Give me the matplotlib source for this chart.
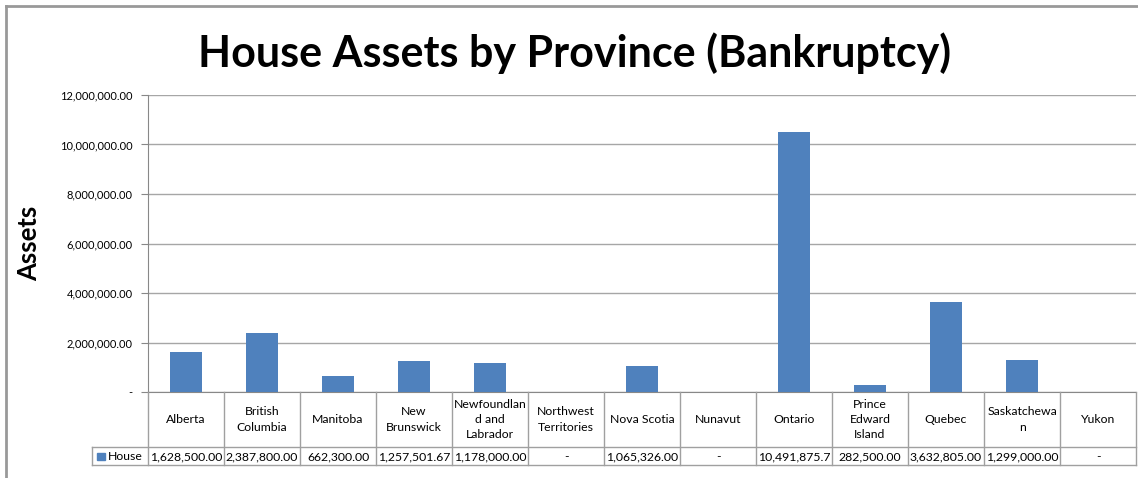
import matplotlib
matplotlib.use("Agg")
import matplotlib.pyplot as plt
from matplotlib.lines import Line2D
from matplotlib.patches import Rectangle

# data
provinces = ["Alberta", "British\nColumbia", "Manitoba", "New\nBrunswick",
             "Newfoundlan\nd and\nLabrador", "Northwest\nTerritories", "Nova Scotia",
             "Nunavut", "Ontario", "Prince\nEdward\nIsland", "Quebec",
             "Saskatchewa\nn", "Yukon"]
house = [1628500.00, 2387800.00, 662300.00, 1257501.67, 1178000.00, 0,
         1065326.00, 0, 10491875.70, 282500.00, 3632805.00, 1299000.00, 0]
yticks = [0, 2e6, 4e6, 6e6, 8e6, 10e6, 12e6]

W, H = 1138, 478
blue = "#4F81BD"
grid = "#A6A6A6"
font = "Lato"
plt.rcParams["font.family"] = [font, "DejaVu Sans"]

fig = plt.figure(figsize=(W / 100, H / 100), dpi=100)

def box(x0, y0, x1, y1):
    # pixel box (top-left origin) -> figure rect
    return [x0 / W, 1 - y1 / H, (x1 - x0) / W, (y1 - y0) / H]

# main plot
L, R, T, B = 148, 1136, 95, 392
ax = fig.add_axes(box(L, T, R, B))
n = len(provinces)
ax.bar(range(n), house, width=0.42, color=blue, zorder=3)
ax.set_xlim(-0.5, n - 0.5)
ax.set_ylim(0, 12e6)
ax.set_yticks(yticks)
ax.set_yticklabels(["-" if v == 0 else f"{v:,.2f}" for v in yticks], fontsize=8)
ax.set_xticks([])
ax.yaxis.grid(True, color=grid, lw=1)
ax.set_axisbelow(True)
for s in ["top", "right"]:
    ax.spines[s].set_visible(False)
ax.spines["left"].set_color("#888888")
ax.spines["bottom"].set_color("#888888")
ax.tick_params(axis="y", length=5, color="#888888", pad=6)
ax.set_ylabel("Assets", fontsize=18.5, fontweight="bold", labelpad=14)

# data table under the plot
legw = (L - 92) / 76
tab = fig.add_axes(box(92, B, R, 465))
tab.set_xlim(-0.5 - legw, n - 0.5)
tab.set_ylim(465 - B, 0)
tab.axis("off")
lc = "#A0A0A0"
row2 = 447 - B
bot = 465 - B
fs = 8.8
for i in range(n + 1):
    tab.plot([i - 0.5, i - 0.5], [0, bot], color=lc, lw=1, clip_on=False)
tab.plot([-0.5 - legw, n - 0.5], [row2, row2], color=lc, lw=1, clip_on=False)
tab.plot([-0.5 - legw, n - 0.5], [bot, bot], color=lc, lw=1, clip_on=False)
tab.plot([-0.5 - legw, -0.5 - legw], [row2, bot], color=lc, lw=1, clip_on=False)
for i, (p, v) in enumerate(zip(provinces, house)):
    tab.text(i, row2 / 2, p, ha="center", va="center", fontsize=fs,
             linespacing=1.5)
    lab = "-" if v == 0 else f"{v:,.2f}"[:12]
    tab.text(i, (row2 + bot) / 2 + 0.5, lab, ha="center", va="center", fontsize=fs)
tab.add_patch(Rectangle((-0.5 - legw + 0.07, row2 + 5.5), 0.1, 7.5, color=blue,
                        clip_on=False))
tab.text(-0.5 - legw + 0.21, (row2 + bot) / 2 + 0.5, "House", ha="left",
         va="center", fontsize=fs)

fig.text(575 / W, 1 - 53 / H, "House Assets by Province (Bankruptcy)",
         ha="center", va="center", fontsize=31, fontweight="bold")

# outer chart border
fig.add_artist(Line2D([6 / W, 1], [1 - 6 / H, 1 - 6 / H], color="#999999", lw=2))
fig.add_artist(Line2D([6 / W, 6 / W], [0, 1 - 6 / H], color="#999999", lw=2))

fig.savefig("out.png", dpi=100)
